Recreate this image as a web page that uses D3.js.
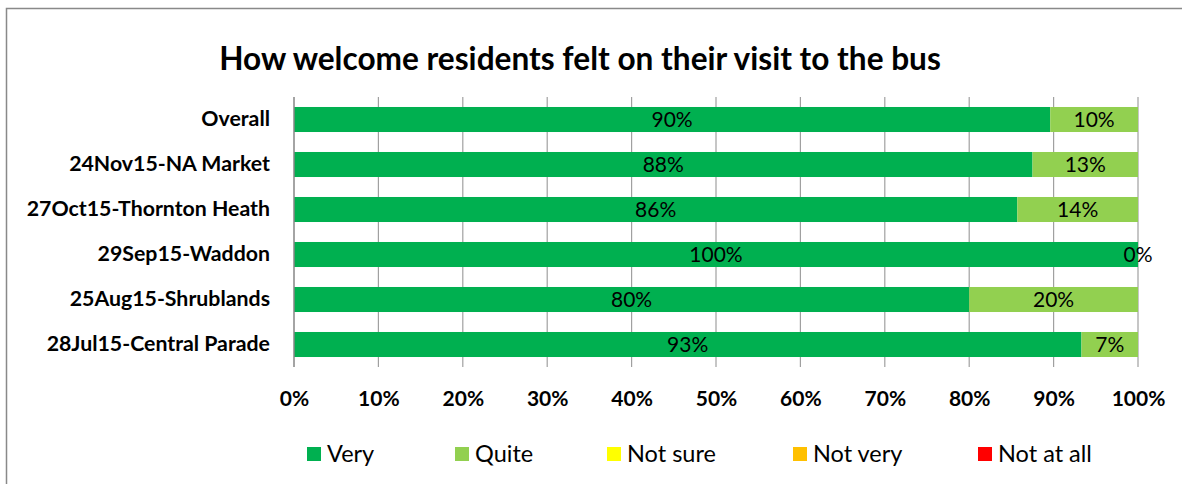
<!DOCTYPE html>
<html>
<head>
<meta charset="utf-8">
<script src="https://cdn.jsdelivr.net/npm/d3@7"></script>
<style>
  body { margin: 0; background: #fff; }
  svg { display: block; font-family: Lato, "Open Sans", sans-serif; }
</style>
</head>
<body>
<svg id="chart" width="1182" height="484"></svg>
<script>
// chart values
var categories = ['Overall', '24Nov15-NA Market', '27Oct15-Thornton Heath',
  '29Sep15-Waddon', '25Aug15-Shrublands', '28Jul15-Central Parade'];
var seriesNames = ['Very', 'Quite', 'Not sure', 'Not very', 'Not at all'];
var seriesColors = ['#00b050', '#92d050', '#ffff00', '#ffc000', '#ff0000'];
var very     = [89.6, 87.5, 85.7, 100, 80, 93.3];
var quite    = [10.4, 12.5, 14.3, 0, 20, 6.7];
var notSure  = [null, null, null, null, null, null];
var notVery  = [null, null, null, null, null, null];
var notAtAll = [null, null, null, null, null, null];
var xTicks = [0, 10, 20, 30, 40, 50, 60, 70, 80, 90, 100];
var title = 'How welcome residents felt on their visit to the bus';

var seriesValues = [very, quite, notSure, notVery, notAtAll];

var margin = { top: 97, left: 294, right: 44, bottom: 117 },
    width = 1182, height = 484;

var svg = d3.select('#chart');

// outer chart frame
svg.append('rect')
  .attr('x', 6.5).attr('y', 8.5)
  .attr('width', 1200).attr('height', 500)
  .attr('fill', 'none')
  .attr('stroke', '#898989')
  .attr('stroke-width', 1.5);

svg.append('text')
  .attr('x', 580).attr('y', 70)
  .attr('text-anchor', 'middle')
  .attr('font-weight', 'bold')
  .attr('font-size', 31.6)
  .attr('fill', '#000')
  .text(title);

var x = d3.scaleLinear()
  .domain([0, 100])
  .range([margin.left, width - margin.right]);

var y = d3.scaleBand()
  .domain(categories)
  .range([margin.top, height - margin.bottom])
  .paddingInner(0.444)
  .paddingOuter(0.222);

/* vertical gridlines */
svg.append('g')
  .selectAll('line')
  .data(xTicks.slice(1))
  .enter().append('line')
    .attr('x1', function(d) { return x(d); })
    .attr('x2', function(d) { return x(d); })
    .attr('y1', margin.top)
    .attr('y2', height - margin.bottom)
    .attr('stroke', '#a0a0a0')
    .attr('stroke-width', 1.2);

/* stack the series per category */
var rows = categories.map(function(c, i) {
  var row = { category: c };
  seriesNames.forEach(function(s, j) { row[s] = seriesValues[j][i]; });
  return row;
});

var stacked = d3.stack()
  .keys(seriesNames)
  .value(function(d, key) { return d[key] || 0; })(rows);

var layers = svg.append('g')
  .selectAll('g')
  .data(stacked)
  .enter().append('g')
    .attr('fill', function(d, i) { return seriesColors[i]; });

layers.selectAll('rect')
  .data(function(d) { return d; })
  .enter().append('rect')
    .attr('x', function(d) { return x(d[0]); })
    .attr('y', function(d) { return y(d.data.category); })
    .attr('width', function(d) { return x(d[1]) - x(d[0]); })
    .attr('height', y.bandwidth());

/* data labels, only where a value exists */
layers.selectAll('text')
  .data(function(d) {
    return d.map(function(p) { p.key = d.key; return p; })
      .filter(function(p) { return p.data[d.key] !== null; });
  })
  .enter().append('text')
    .attr('x', function(d) { return x((d[0] + d[1]) / 2); })
    .attr('y', function(d) { return y(d.data.category) + y.bandwidth() / 2 + 7; })
    .attr('text-anchor', 'middle')
    .attr('font-size', 21)
    .attr('fill', '#000')
    .text(function(d) { return Math.round(d.data[d.key]) + '%'; });

/* left axis line */
svg.append('line')
  .attr('x1', margin.left).attr('x2', margin.left)
  .attr('y1', margin.top).attr('y2', height - margin.bottom)
  .attr('stroke', '#868686')
  .attr('stroke-width', 1.5);

/* category labels */
var yAxis = d3.axisLeft(y).tickSize(0).tickPadding(24);
svg.append('g')
  .attr('transform', 'translate(' + margin.left + ',0)')
  .call(yAxis)
  .call(function(g) { g.select('.domain').remove(); })
  .selectAll('text')
    .attr('font-family', 'Lato, sans-serif')
    .attr('font-size', 21.3)
    .attr('font-weight', 'bold')
    .attr('fill', '#000');

/* x tick labels */
var xAxis = d3.axisBottom(x)
  .tickValues(xTicks)
  .tickSize(0)
  .tickPadding(24)
  .tickFormat(function(d) { return d + '%'; });
svg.append('g')
  .attr('transform', 'translate(0,' + (height - margin.bottom) + ')')
  .call(xAxis)
  .call(function(g) { g.select('.domain').remove(); })
  .selectAll('text')
    .attr('font-family', 'Lato, sans-serif')
    .attr('font-size', 21)
    .attr('font-weight', 'bold')
    .attr('fill', '#000');

/* legend */
var legendX = [307, 455, 607, 793, 978];
var legend = svg.append('g')
  .selectAll('g')
  .data(seriesNames)
  .enter().append('g')
    .attr('transform', function(d, i) { return 'translate(' + legendX[i] + ',447)'; });

legend.append('rect')
  .attr('width', 14).attr('height', 14)
  .attr('fill', function(d, i) { return seriesColors[i]; });

legend.append('text')
  .attr('x', 20).attr('y', 15)
  .attr('font-size', 23.5)
  .attr('fill', '#000')
  .text(function(d) { return d; });
</script>
</body>
</html>
